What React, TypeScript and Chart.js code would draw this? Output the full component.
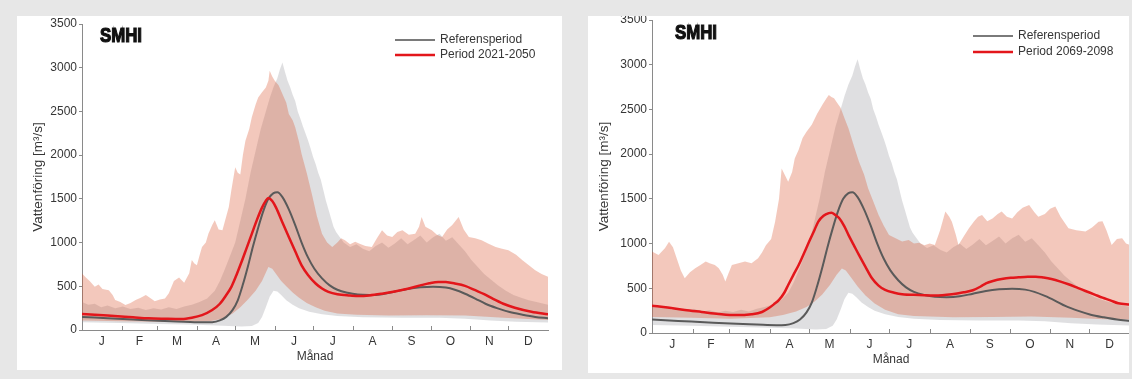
import React, { useEffect, useRef } from 'react';
import { Chart, registerables } from 'chart.js';

Chart.register(...registerables);

const FONT = '"Liberation Sans", Arial, Helvetica, sans-serif';
const TEXT = '#363636';
const AXIS = '#8a8a8a';
const RED = '#e3161b';
const GREY_LINE = '#5a5a5a';
const GREY_BAND = 'rgba(150,150,155,0.30)';
const SALMON_BAND = 'rgba(217,83,46,0.32)';

const monthLabels = ['J', 'F', 'M', 'A', 'M', 'J', 'J', 'A', 'S', 'O', 'N', 'D'];
const monthEdges = [0, 31, 59, 90, 120, 151, 181, 212, 243, 273, 304, 334, 365];

// Reference period: median and min/max envelope, [day, m3/s]
const refMedian = [[0,150],[20,135],[40,120],[60,105],[80,95],[95,88],[102,90],[108,110],[113,150],[118,230],[122,340],[126,520],[130,730],[134,960],[138,1170],[142,1360],[146,1500],[150,1565],[153,1575],[157,1520],[162,1380],[167,1200],[172,1000],[177,830],[182,700],[188,590],[194,510],[200,460],[208,425],[216,405],[225,400],[235,410],[245,440],[255,470],[265,488],[275,495],[285,485],[292,460],[300,415],[308,360],[316,300],[325,250],[335,205],[345,175],[355,150],[365,135]];
const refMax = [[0,320],[5,290],[10,300],[15,260],[20,280],[26,250],[32,270],[38,240],[44,255],[50,230],[56,250],[62,235],[68,260],[74,240],[80,270],[86,290],[92,320],[98,360],[104,450],[108,560],[112,700],[116,850],[120,1000],[124,1250],[128,1500],[132,1800],[136,2050],[140,2300],[144,2500],[147,2650],[150,2780],[153,2880],[155,2980],[157,3060],[159,2950],[161,2850],[163,2780],[165,2690],[167,2620],[169,2500],[171,2420],[173,2330],[175,2250],[177,2170],[179,2080],[181,1980],[183,1900],[185,1800],[187,1720],[189,1600],[191,1480],[193,1380],[195,1280],[197,1180],[199,1120],[202,1060],[205,1000],[210,950],[215,980],[220,930],[225,900],[230,960],[235,1000],[240,940],[245,990],[250,1050],[255,980],[260,1030],[265,1080],[270,1000],[275,1060],[280,1100],[285,1020],[290,1060],[295,980],[300,900],[305,800],[310,720],[315,640],[320,580],[326,510],[332,450],[338,400],[344,370],[350,340],[356,320],[365,290]];
const refMin = [[0,90],[30,80],[60,70],[90,60],[110,50],[125,40],[133,45],[138,80],[141,150],[144,260],[147,380],[150,450],[153,440],[156,400],[160,340],[165,290],[170,250],[178,210],[188,180],[200,160],[220,145],[250,140],[280,140],[300,130],[320,110],[340,95],[365,85]];

// Period 2021-2050
const fut1Median = [[0,182],[20,165],[40,145],[52,133],[65,128],[78,125],[86,140],[94,170],[102,228],[108,300],[113,400],[117,494],[121,630],[125,780],[129,940],[133,1100],[137,1260],[141,1400],[144,1480],[146,1510],[149,1475],[152,1400],[157,1230],[162,1064],[167,900],[172,740],[177,630],[183,532],[188,475],[193,437],[200,410],[210,395],[217,388],[225,395],[235,415],[245,440],[256,475],[265,510],[272,535],[279,550],[285,548],[292,532],[300,505],[308,455],[315,410],[322,355],[330,300],[339,255],[352,209],[365,180]];
const fut1Max = [[0,646],[3,600],[6,560],[10,494],[13,520],[16,470],[21,456],[24,400],[26,342],[30,320],[34,285],[38,310],[42,342],[46,370],[50,400],[54,360],[57,330],[61,350],[65,361],[68,420],[72,560],[76,600],[80,540],[84,650],[86,800],[88,760],[90,740],[92,850],[94,950],[97,1000],[99,1100],[102,1200],[104,1254],[107,1150],[110,1140],[113,1300],[115,1406],[117,1600],[120,1862],[122,1800],[124,1780],[126,2000],[128,2166],[131,2300],[133,2432],[136,2580],[138,2660],[141,2720],[144,2774],[146,2850],[147,2964],[149,2900],[151,2850],[154,2800],[157,2698],[160,2600],[162,2470],[165,2400],[167,2318],[170,2150],[172,2014],[176,1800],[180,1558],[184,1300],[188,1102],[192,1000],[196,950],[200,1000],[203,1050],[206,1026],[210,980],[214,1010],[217,988],[222,960],[227,950],[231,1050],[235,1140],[239,1080],[243,1064],[247,1120],[251,1140],[256,1090],[261,1102],[264,1180],[266,1292],[269,1180],[274,1140],[278,1090],[282,1064],[286,1150],[290,1200],[295,1292],[299,1150],[303,1064],[308,1050],[313,1026],[318,990],[324,950],[329,930],[334,912],[340,860],[345,798],[350,740],[355,684],[360,640],[365,608]];
const fut1Min = [[0,110],[30,100],[60,95],[90,95],[100,100],[110,130],[118,190],[124,260],[130,350],[136,450],[141,560],[146,720],[149,700],[152,640],[156,560],[160,500],[165,430],[170,370],[176,310],[183,260],[190,220],[200,190],[215,175],[240,165],[270,170],[300,165],[330,140],[365,115]];

// Period 2069-2098
const fut2Median = [[0,306],[12,285],[25,257],[38,235],[51,213],[64,200],[76,210],[84,235],[89,276],[93,320],[97,370],[101,450],[104,537],[108,650],[112,760],[116,890],[120,1022],[124,1150],[127,1246],[131,1310],[135,1340],[137,1346],[140,1320],[143,1283],[147,1190],[150,1097],[154,985],[158,873],[163,740],[168,612],[173,530],[178,481],[185,450],[191,433],[204,425],[216,418],[229,433],[238,455],[245,478],[251,520],[255,556],[261,585],[267,604],[274,618],[280,623],[287,628],[293,630],[299,620],[305,604],[312,575],[318,545],[325,505],[331,470],[338,430],[344,395],[350,365],[356,332],[365,318]];
const fut2Max = [[0,910],[5,873],[10,950],[13,1020],[16,960],[18,873],[22,700],[25,612],[29,680],[33,724],[37,760],[41,800],[44,780],[48,760],[51,724],[54,650],[56,575],[58,650],[61,760],[66,780],[71,800],[76,780],[81,835],[84,900],[87,980],[91,1050],[94,1245],[97,1500],[99,1840],[102,1750],[104,1690],[107,1800],[109,1950],[112,2050],[115,2180],[118,2250],[122,2330],[126,2450],[130,2550],[133,2620],[135,2660],[137,2640],[139,2625],[142,2560],[144,2520],[147,2400],[150,2290],[154,2100],[158,1917],[162,1770],[165,1620],[169,1470],[173,1320],[177,1200],[181,1097],[186,1060],[191,1022],[196,1040],[200,1000],[204,1010],[208,980],[212,1000],[216,985],[220,1150],[224,1358],[227,1300],[229,1245],[232,1100],[234,985],[238,1080],[242,1171],[246,1250],[249,1300],[252,1320],[256,1250],[260,1280],[264,1330],[267,1358],[271,1300],[275,1280],[279,1350],[283,1400],[288,1432],[292,1350],[295,1300],[300,1330],[304,1390],[308,1414],[312,1300],[318,1171],[324,1150],[331,1134],[336,1180],[341,1245],[344,1250],[347,1150],[351,985],[355,1050],[359,1060],[362,1000],[365,985]];
const fut2Min = [[0,180],[30,170],[60,160],[90,175],[100,200],[110,240],[118,290],[124,350],[130,430],[136,540],[141,650],[145,720],[148,700],[152,620],[157,520],[163,420],[170,330],[178,260],[188,210],[200,190],[230,175],[260,180],[290,185],[320,170],[345,155],[365,150]];

const pts = (a: number[][]) => a.map(([x, y]) => ({ x, y }));

interface PanelCfg {
  left: number; top: number; width: number; height: number;
  canvasW: number; canvasH: number; canvasTop: number;
  padTop: number; padRight: number; yWidth: number; titlePad: number;
  futLabel: string;
  futMedian: number[][]; futMax: number[][]; futMin: number[][];
  logoX: number; logoY: number;
  legLineX: number; legY: number; legGap: number;
}

function decor(cfg: PanelCfg) {
  return {
    id: 'decor',
    afterDraw(chart: any) {
      const { ctx, chartArea: area } = chart;
      const xs = chart.scales.x;
      ctx.save();
      // month boundary ticks, pointing into the plot
      ctx.strokeStyle = AXIS;
      ctx.lineWidth = 1;
      ctx.beginPath();
      for (let i = 1; i < monthEdges.length - 1; i++) {
        const px = Math.round(xs.getPixelForValue(monthEdges[i])) + 0.5;
        ctx.moveTo(px, area.bottom);
        ctx.lineTo(px, area.bottom - 4);
      }
      ctx.stroke();
      // month letters centred in each month
      ctx.fillStyle = TEXT;
      ctx.font = `12px ${FONT}`;
      ctx.textAlign = 'center';
      ctx.textBaseline = 'middle';
      monthLabels.forEach((m, i) => {
        const c = (monthEdges[i] + monthEdges[i + 1]) / 2;
        ctx.fillText(m, xs.getPixelForValue(c), area.bottom + 12);
      });
      ctx.fillText('Månad', (area.left + area.right) / 2, area.bottom + 27);
      // legend
      const rows = [
        { c: '#7a7a7a', w: 2, t: 'Referensperiod' },
        { c: RED, w: 2.5, t: cfg.futLabel },
      ];
      ctx.textAlign = 'left';
      rows.forEach((r, i) => {
        const y = cfg.legY + i * cfg.legGap;
        ctx.strokeStyle = r.c;
        ctx.lineWidth = r.w;
        ctx.beginPath();
        ctx.moveTo(cfg.legLineX, y);
        ctx.lineTo(cfg.legLineX + 40, y);
        ctx.stroke();
        ctx.fillStyle = TEXT;
        ctx.font = `12px ${FONT}`;
        ctx.fillText(r.t, cfg.legLineX + 45, y);
      });
      // SMHI logotype
      ctx.translate(cfg.logoX, cfg.logoY);
      ctx.scale(0.84, 1);
      ctx.font = `bold 20px ${FONT}`;
      ctx.fillStyle = '#111';
      ctx.strokeStyle = '#111';
      ctx.lineWidth = 1.2;
      ctx.textBaseline = 'middle';
      ctx.fillText('SMHI', 0, 0);
      ctx.strokeText('SMHI', 0, 0);
      ctx.restore();
    },
  };
}

function Panel({ cfg }: { cfg: PanelCfg }) {
  const ref = useRef<HTMLCanvasElement | null>(null);
  useEffect(() => {
    if (!ref.current) return;
    const hidden = { borderColor: 'rgba(0,0,0,0)', borderWidth: 0, pointRadius: 0, tension: 0 };
    const chart = new Chart(ref.current, {
      type: 'line',
      data: {
        datasets: [
          { label: cfg.futLabel, data: pts(cfg.futMedian), borderColor: RED, borderWidth: 2.5, pointRadius: 0, fill: false, cubicInterpolationMode: 'monotone' },
          { label: 'Referensperiod', data: pts(refMedian), borderColor: GREY_LINE, borderWidth: 2, pointRadius: 0, fill: false, cubicInterpolationMode: 'monotone' },
          { label: 'fmax', data: pts(cfg.futMax), ...hidden, fill: '+1', backgroundColor: SALMON_BAND },
          { label: 'fmin', data: pts(cfg.futMin), ...hidden, fill: false },
          { label: 'rmax', data: pts(refMax), ...hidden, fill: '+1', backgroundColor: GREY_BAND },
          { label: 'rmin', data: pts(refMin), ...hidden, fill: false },
        ] as any,
      },
      options: {
        animation: false,
        responsive: false,
        maintainAspectRatio: false,
        events: [],
        layout: { padding: { left: 0, right: cfg.padRight, top: cfg.padTop, bottom: 0 } },
        plugins: { legend: { display: false }, tooltip: { enabled: false } },
        scales: {
          x: {
            type: 'linear',
            min: 0,
            max: 365,
            ticks: { display: false },
            grid: { display: false },
            border: { display: true, color: AXIS, width: 1 },
            afterFit: (s: any) => { s.height = 40; },
          },
          y: {
            min: 0,
            max: 3500,
            ticks: {
              stepSize: 500,
              color: TEXT,
              font: { family: FONT, size: 12 },
              padding: 2,
              callback: (v: any) => String(v),
            },
            grid: { display: true, drawOnChartArea: false, drawTicks: true, tickLength: 3, color: AXIS },
            border: { display: true, color: AXIS, width: 1 },
            title: {
              display: true,
              text: 'Vattenföring [m³/s]',
              color: TEXT,
              font: { family: FONT, size: 13.5 },
              padding: { top: cfg.titlePad, bottom: 0 },
            },
            afterFit: (s: any) => { s.width = cfg.yWidth; },
          },
        },
      } as any,
      plugins: [decor(cfg)],
    });
    return () => chart.destroy();
  }, [cfg]);
  return (
    <div style={{ position: 'absolute', left: cfg.left, top: cfg.top, width: cfg.width, height: cfg.height, background: '#fff', overflow: 'hidden' }}>
      <canvas
        ref={ref}
        width={cfg.canvasW}
        height={cfg.canvasH}
        style={{ position: 'absolute', left: 0, top: cfg.canvasTop, width: cfg.canvasW, height: cfg.canvasH, display: 'block' }}
      />
    </div>
  );
}

const leftCfg: PanelCfg = {
  left: 17, top: 16, width: 545, height: 354,
  canvasW: 545, canvasH: 364, canvasTop: -10,
  padTop: 18, padRight: 14, yWidth: 65, titlePad: 13,
  futLabel: 'Period 2021-2050',
  futMedian: fut1Median, futMax: fut1Max, futMin: fut1Min,
  logoX: 83, logoY: 30,
  legLineX: 378, legY: 34, legGap: 15,
};

const rightCfg: PanelCfg = {
  left: 588, top: 16, width: 541, height: 357,
  canvasW: 545, canvasH: 367, canvasTop: -10,
  padTop: 14, padRight: 3, yWidth: 64, titlePad: 8,
  futLabel: 'Period 2069-2098',
  futMedian: fut2Median, futMax: fut2Max, futMin: fut2Min,
  logoX: 87, logoY: 27,
  legLineX: 385, legY: 30, legGap: 16,
};

export default function App() {
  useEffect(() => {
    document.body.style.margin = '0';
  }, []);
  return (
    <div style={{ position: 'relative', width: 1132, height: 379, background: '#e7e7e7', overflow: 'hidden' }}>
      <Panel cfg={leftCfg} />
      <Panel cfg={rightCfg} />
    </div>
  );
}
